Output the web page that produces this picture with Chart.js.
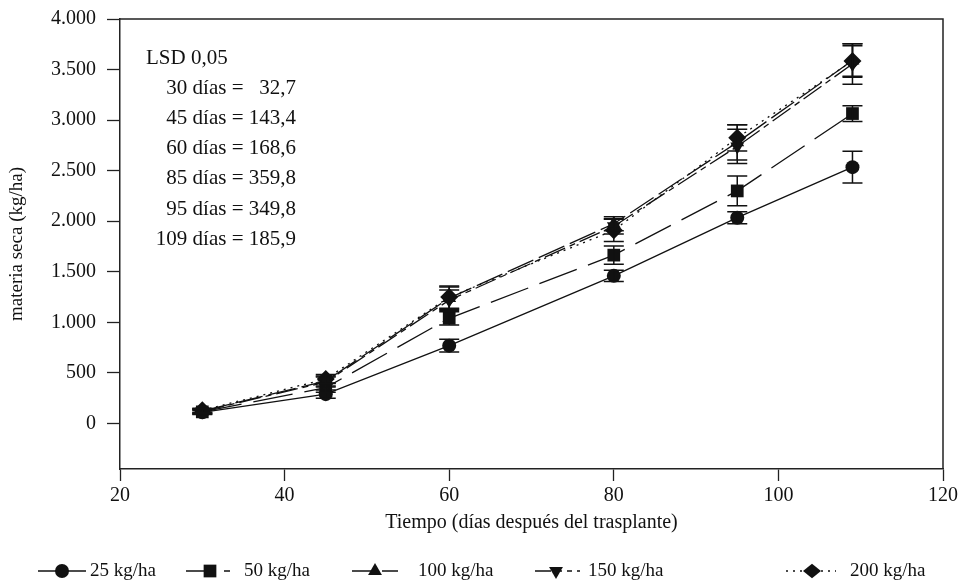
<!DOCTYPE html>
<html>
<head>
<meta charset="utf-8">
<script src="https://cdn.jsdelivr.net/npm/chart.js@4/dist/chart.umd.min.js"></script>
<style>
  html, body { margin: 0; padding: 0; background: #fff; }
  #wrap { width: 967px; height: 587px; }
</style>
</head>
<body>
<div id="wrap"><canvas id="chart" width="967" height="587"></canvas></div>
<script>
// days after transplant
const days = [30, 45, 60, 80, 95, 109];

// dry matter (kg/ha) per N rate, and error bar half-widths
const dm25 = [110, 290, 770, 1460, 2035, 2535];
const err25 = [20, 40, 62, 55, 60, 157];
const dm50 = [115, 355, 1040, 1665, 2300, 3065];
const err50 = [20, 45, 65, 90, 147, 78];
const dm100 = [125, 420, 1240, 1975, 2780, 3590];
const err100 = [20, 50, 110, 70, 175, 165];
const dm150 = [120, 410, 1220, 1950, 2740, 3555];
const err150 = [20, 50, 100, 75, 170, 200];
const dm200 = [130, 440, 1250, 1910, 2825, 3585];
const err200 = [20, 45, 110, 110, 130, 150];

const seriesNames = ['25 kg/ha', '50 kg/ha', '100 kg/ha', '150 kg/ha', '200 kg/ha'];
const xTicks = [20, 40, 60, 80, 100, 120];
const yTicks = [0, 500, 1000, 1500, 2000, 2500, 3000, 3500, 4000];
const lsdTitle = 'LSD 0,05';
const lsdDays = ['30 días =', '45 días =', '60 días =', '85 días =', '95 días =', '109 días ='];
const lsdValues = ['32,7', '143,4', '168,6', '359,8', '349,8', '185,9'];

const FONT = "'Liberation Serif', 'DejaVu Serif', serif";
const INK = '#111';

function pts(vals) {
  return days.map((d, i) => ({ x: d, y: vals[i] }));
}

function fmtThousands(v) {
  return String(v).replace(/\B(?=(\d{3})+(?!\d))/g, '.');
}

// draw a marker shape like Chart.js point styles
function drawMarker(ctx, style, r, rot, x, y) {
  ctx.save();
  ctx.translate(x, y);
  ctx.rotate(rot * Math.PI / 180);
  ctx.beginPath();
  if (style === 'circle') {
    ctx.arc(0, 0, r, 0, Math.PI * 2);
  } else if (style === 'rect') {
    const s = r * Math.SQRT1_2;
    ctx.rect(-s, -s, 2 * s, 2 * s);
  } else if (style === 'triangle') {
    for (let k = 0; k < 3; k++) {
      const a = k * 2 * Math.PI / 3;
      const px = Math.sin(a) * r, py = -Math.cos(a) * r;
      k === 0 ? ctx.moveTo(px, py) : ctx.lineTo(px, py);
    }
    ctx.closePath();
  } else if (style === 'rectRot') {
    ctx.moveTo(-r, 0); ctx.lineTo(0, -r * 0.8); ctx.lineTo(r, 0); ctx.lineTo(0, r * 0.8);
    ctx.closePath();
  }
  ctx.fillStyle = INK;
  ctx.fill();
  ctx.restore();
}

const errorBars = {
  id: 'errorBars',
  afterDatasetsDraw(chart) {
    const { ctx, scales: { y } } = chart;
    ctx.save();
    ctx.strokeStyle = INK;
    ctx.lineWidth = 1.5;
    chart.data.datasets.forEach((ds, di) => {
      const meta = chart.getDatasetMeta(di);
      meta.data.forEach((pt, i) => {
        const v = ds.data[i].y, e = ds.errors[i];
        const yt = y.getPixelForValue(v + e), yb = y.getPixelForValue(v - e);
        const cw = 10;
        ctx.beginPath();
        ctx.moveTo(pt.x, yt); ctx.lineTo(pt.x, yb);
        ctx.moveTo(pt.x - cw, yt); ctx.lineTo(pt.x + cw, yt);
        ctx.moveTo(pt.x - cw, yb); ctx.lineTo(pt.x + cw, yb);
        ctx.stroke();
      });
    });
    ctx.restore();
  }
};

const frame = {
  id: 'frame',
  afterDraw(chart) {
    const { ctx, chartArea: a } = chart;
    ctx.save();
    ctx.strokeStyle = '#222';
    ctx.lineWidth = 1.5;
    ctx.beginPath();
    ctx.moveTo(a.left, a.top); ctx.lineTo(a.right, a.top); ctx.lineTo(a.right, a.bottom);
    ctx.stroke();

    // LSD note: "=" signs line up, values right aligned
    ctx.fillStyle = INK;
    ctx.font = '21px ' + FONT;
    ctx.textBaseline = 'middle';
    ctx.textAlign = 'left';
    ctx.fillText(lsdTitle, 146, 58);
    const valRight = 296;
    const eqRight = valRight - ctx.measureText(' 143,4').width;
    for (let i = 0; i < lsdDays.length; i++) {
      const yy = 58 + (i + 1) * 30.2;
      ctx.textAlign = 'right';
      ctx.fillText(lsdDays[i], eqRight, yy);
      ctx.fillText(lsdValues[i], valRight, yy);
    }
    ctx.restore();
  }
};

// legend slots: line start, line end, marker x, text x
const legendSlots = [
  [38, 86, 62, 90],
  [186, 232, 210, 244],
  [352, 398, 375, 418],
  [535, 580, 556, 588],
  [786, 836, 812, 850]
];

const bottomLegend = {
  id: 'bottomLegend',
  afterDraw(chart) {
    const { ctx } = chart;
    const ly = 571;
    ctx.save();
    chart.data.datasets.forEach((ds, i) => {
      const [l0, l1, mx, tx] = legendSlots[i];
      ctx.strokeStyle = INK;
      ctx.lineWidth = 1.4;
      ctx.setLineDash(ds.legendDash);
      ctx.beginPath();
      ctx.moveTo(l0, ly); ctx.lineTo(l1, ly);
      ctx.stroke();
      ctx.setLineDash([]);
      drawMarker(ctx, ds.pointStyle, ds.pointRadius, ds.pointRotation || 0, mx, ly);
      ctx.fillStyle = INK;
      ctx.font = '19px ' + FONT;
      ctx.textBaseline = 'middle';
      ctx.textAlign = 'left';
      ctx.fillText(ds.label, tx, ly);
    });
    ctx.restore();
  }
};

function mkSet(label, vals, errs, style, radius, dash, legendDash, rot) {
  return {
    label: label,
    data: pts(vals),
    errors: errs,
    borderColor: INK,
    backgroundColor: INK,
    borderWidth: 1.3,
    borderDash: dash,
    legendDash: legendDash,
    pointStyle: style,
    pointRadius: radius,
    pointRotation: rot || 0,
    pointBackgroundColor: INK,
    pointBorderColor: INK,
    pointBorderWidth: 0,
    tension: 0,
    fill: false
  };
}

new Chart(document.getElementById('chart'), {
  type: 'line',
  data: {
    datasets: [
      mkSet(seriesNames[0], dm25, err25, 'circle', 7, [], []),
      mkSet(seriesNames[1], dm50, err50, 'rect', 9, [40, 12], [30, 8, 6, 8]),
      mkSet(seriesNames[2], dm100, err100, 'triangle', 8, [28, 6], [20, 10]),
      mkSet(seriesNames[3], dm150, err150, 'triangle', 8, [22, 5, 6, 5], [16, 6, 5, 5, 5, 5], 180),
      mkSet(seriesNames[4], dm200, err200, 'rectRot', 9, [2, 5], [2, 5])
    ]
  },
  options: {
    responsive: false,
    animation: false,
    layout: { padding: { top: 19, right: 24, bottom: 48, left: 0 } },
    plugins: {
      legend: { display: false },
      tooltip: { enabled: false }
    },
    scales: {
      x: {
        type: 'linear',
        min: 20,
        max: 120,
        afterFit: s => { s.height = 70; s.paddingLeft = 0; s.paddingRight = 0; },
        afterBuildTicks: s => { s.ticks = xTicks.map(v => ({ value: v })); },
        grid: { drawOnChartArea: false, tickLength: 12, tickColor: '#222', tickWidth: 1.3 },
        border: { color: '#222', width: 1.5 },
        ticks: { color: INK, font: { family: FONT, size: 20 }, padding: 3, maxRotation: 0 },
        title: { display: true, text: 'Tiempo (días después del trasplante)', color: INK,
                 font: { family: FONT, size: 20 }, padding: { top: 0, bottom: 4 } }
      },
      y: {
        min: -450,
        max: 4000,
        afterFit: s => { s.width = 120; s.paddingTop = 0; s.paddingBottom = 0; },
        afterBuildTicks: s => { s.ticks = yTicks.map(v => ({ value: v })); },
        grid: { drawOnChartArea: false, tickLength: 13, tickColor: '#222', tickWidth: 1.3 },
        border: { color: '#222', width: 1.5 },
        ticks: { color: INK, font: { family: FONT, size: 20 }, padding: 11,
                 callback: v => fmtThousands(v) },
        title: { display: true, text: 'materia seca (kg/ha)', color: INK,
                 font: { family: FONT, size: 19 }, padding: { top: 6, bottom: 0 } }
      }
    }
  },
  plugins: [errorBars, frame, bottomLegend]
});
</script>
</body>
</html>
